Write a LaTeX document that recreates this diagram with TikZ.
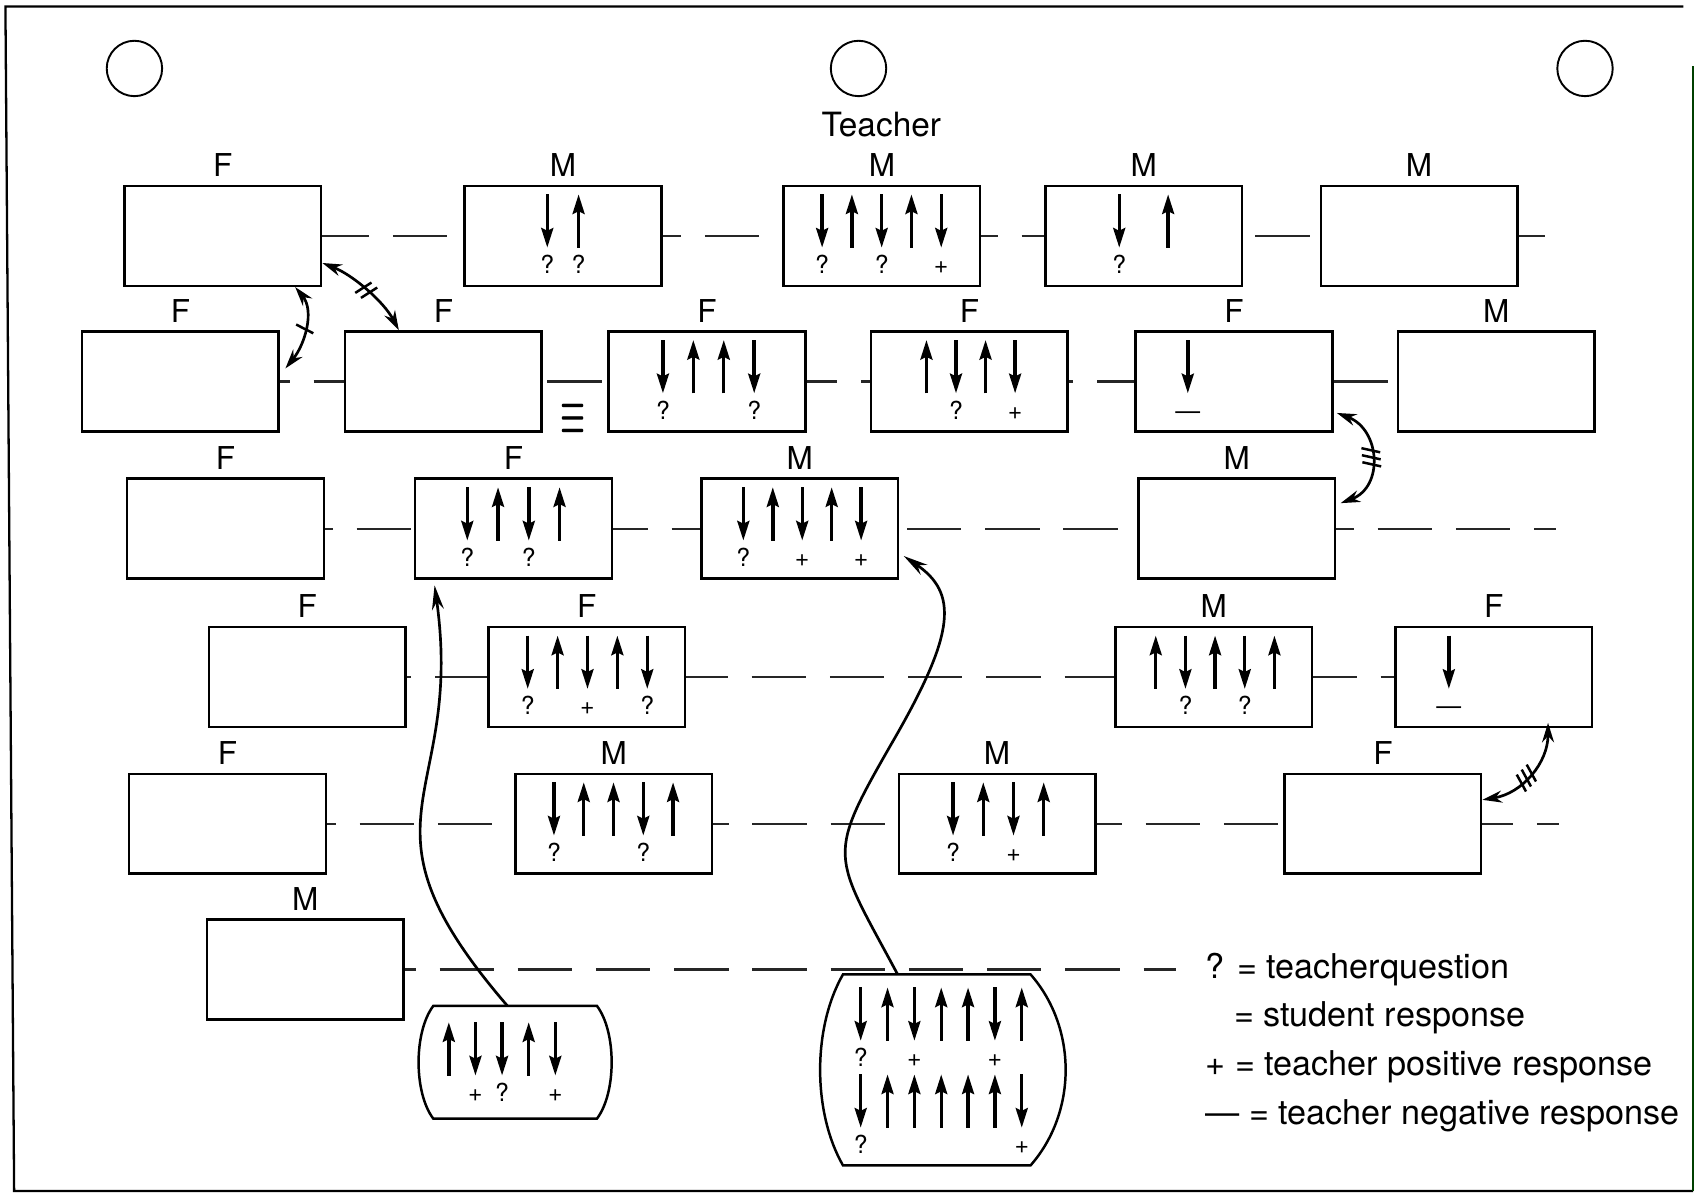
\documentclass[tikz,border=0pt]{standalone}
\usepackage{fontspec}
\setmainfont{TeX Gyre Heros}
\usetikzlibrary{arrows.meta,decorations.markings}

\newcommand{\turns}[5]{%
  \foreach \dir/\sg [count=\i from 0] in {#5}{%
    \draw[turn] ([shift={({#2+\i*#3},{#4+\dir*49})}]#1)
      -- ([shift={({#2+\i*#3},{#4+49-\dir*49})}]#1);
    \node[resp] at ([shift={({#2+\i*#3},{#4+73})}]#1) {\sg};
  }}

\begin{document}
\begin{tikzpicture}[x=0.02cm, y=-0.02cm,
  gender/.style={font=\fontsize{16.5}{18}\selectfont, inner sep=0pt, yshift=0.14cm},
  seat/.style={draw, line width=1.3pt, minimum width=3.62cm, minimum height=1.84cm, inner sep=0pt, label={[gender]above:#1}},
  cluster/.style={line width=1.3pt},
  hole/.style={circle, draw, line width=1pt, minimum size=1.02cm, inner sep=0pt},
  turn/.style={line width=1.8pt, -{Stealth[length=0.36cm,width=0.22cm,inset=0.05cm]}},
  resp/.style={font=\fontsize{13}{15}\selectfont, inner sep=0pt, anchor=base},
  talk/.style={line width=1.2pt, black!85, dash pattern=on 1cm off 0.44cm},
  pointer/.style={line width=1.4pt, -{Stealth[length=0.45cm,width=0.22cm]}},
  link/.style={line width=1.4pt, {Stealth[length=0.36cm,width=0.22cm]}-{Stealth[length=0.36cm,width=0.22cm]}},
  keytext/.style={font=\fontsize{17.9}{20}\selectfont, inner sep=0pt, anchor=base west},
  tick one/.style={postaction={decorate,decoration={markings,mark=at position #1 with {\draw[-,line width=1.3pt] (-0.05cm,-0.17cm) -- (0.05cm,0.17cm);}}}},
  tick one/.default=0.5,
  tick two/.style={postaction={decorate,decoration={markings,mark=at position #1 with {\draw[-,line width=1.3pt] (-0.12cm,-0.17cm) -- (-0.02cm,0.17cm) (0.02cm,-0.17cm) -- (0.12cm,0.17cm);}}}},
  tick two/.default=0.5,
  tick three/.style={postaction={decorate,decoration={markings,mark=at position #1 with {\draw[-,line width=1.3pt] (-0.18cm,-0.17cm) -- (-0.08cm,0.17cm) (-0.05cm,-0.17cm) -- (0.05cm,0.17cm) (0.08cm,-0.17cm) -- (0.18cm,0.17cm);}}}},
  tick three/.default=0.5]

  \useasboundingbox (0,0) rectangle (1568,1098);
  \draw[line width=1.2pt] (1549,6) -- (5,6) -- (13,1096) -- (1558,1096);
  \draw[line width=1.2pt, green!25!black] (1558,1096) -- (1558,61);

  \node[hole] (h1) at (123.7,63) {};
  \node[hole] (h2) at (790,63) {};
  \node[hole] (h3) at (1458.5,63) {};
  \node[anchor=base, inner sep=0pt, font=\fontsize{17.5}{19}\selectfont] (tch) at (811,126) {Teacher};

  \node[seat=F] (a1) at (205,217) {};
  \node[seat=M] (a2) at (518,217) {};
  \node[seat=M] (a3) at (811.5,217) {};
  \node[seat=M] (a4) at (1052.4,217) {};
  \node[seat=M] (a5) at (1305.8,217) {};

  \node[seat=F] (b1) at (166,351) {};
  \node[seat=F] (b2) at (408,351) {};
  \node[seat=F] (b3) at (650.5,351) {};
  \node[seat=F] (b4) at (892,351) {};
  \node[seat=F] (b5) at (1135.5,351) {};
  \node[seat=M] (b6) at (1376.8,351) {};

  \node[seat=F] (c1) at (207.5,486.5) {};
  \node[seat=F] (c2) at (472.5,486.5) {};
  \node[seat=M] (c3) at (736,486.5) {};
  \node[seat=M] (c4) at (1138,486.5) {};

  \node[seat=F] (d1) at (282.7,623) {};
  \node[seat=F] (d2) at (540,623) {};
  \node[seat=M] (d3) at (1116.8,623) {};
  \node[seat=F] (d4) at (1374.5,623) {};

  \node[seat=F] (e1) at (209.3,758) {};
  \node[seat=M] (e2) at (564.75,758) {};
  \node[seat=M] (e3) at (917.5,758) {};
  \node[seat=F] (e4) at (1272.5,758) {};

  \node[seat=M] (f1) at (280.8,892) {};

  \node[minimum width=3.54cm, minimum height=2.06cm, inner sep=0pt] (g1) at (474.5,977.5) {};
  \draw[cluster] ([xshift=0.26cm]g1.north west) -- ([xshift=-0.28cm]g1.north east)
    .. controls +(18,24) and +(18,-24) .. ([xshift=-0.28cm]g1.south east)
    -- ([xshift=0.26cm]g1.south west)
    .. controls +(-18,-24) and +(-18,24) .. ([xshift=0.26cm]g1.north west) -- cycle;
  \node[minimum width=4.5cm, minimum height=3.5cm, inner sep=0pt] (g2) at (867.5,984.5) {};
  \draw[cluster] ([xshift=0.42cm]g2.north west) -- ([xshift=-0.64cm]g2.north east)
    .. controls +(43,49) and +(43,-49) .. ([xshift=-0.64cm]g2.south east)
    -- ([xshift=0.42cm]g2.south west)
    .. controls +(-28,-49) and +(-28,49) .. ([xshift=0.42cm]g2.north west) -- cycle;

  \turns{a2.north}{-14.4}{28.8}{9}{0/?,1/?}
  \turns{a3.north}{-55}{27.4}{9}{0/?,1/{},0/?,1/{},0/+}
  \turns{a4.north}{-22.5}{45}{9}{0/?,1/{}}
  \turns{b3.north}{-40.5}{28}{9}{0/?,1/{},1/{},0/?}
  \turns{b4.north}{-39.5}{27.2}{9}{1/{},0/?,1/{},0/+}
  \turns{b5.north}{-42.5}{0}{9}{0/—}
  \turns{c2.north}{-42.5}{28.3}{9}{0/?,1/{},0/?,1/{}}
  \turns{c3.north}{-52}{27.1}{9}{0/?,1/{},0/+,1/{},0/+}
  \turns{d2.north}{-54.4}{27.5}{9}{0/?,1/{},0/+,1/{},0/?}
  \turns{d3.north}{-53.3}{27.3}{9}{1/{},0/?,1/{},0/?,1/{}}
  \turns{d4.north}{-41.3}{0}{9}{0/—}
  \turns{e2.north}{-55}{27.4}{9}{0/?,1/{},1/{},0/?,1/{}}
  \turns{e3.north}{-40.5}{27.8}{9}{0/?,1/{},0/+,1/{}}
  \turns{g1.north}{-61.5}{24.5}{15}{1/{},0/+,0/?,1/{},0/+}
  \turns{g2.north}{-75.5}{24.7}{12}{0/?,1/{},0/+,1/{},1/{},0/+,1/{}}
  \turns{g2.north}{-75.5}{24.7}{92}{0/?,1/{},1/{},1/{},1/{},1/{},0/+}

  \coordinate (a5r) at (1422,217);
  \coordinate (c4r) at (1432,486.5);
  \coordinate (e4r) at (1435,758);
  \coordinate (f1r) at (1082,892);

  \draw[talk, dash phase=0.14cm] (a1) -- (a2);
  \draw[talk, dash phase=0.66cm] (a2) -- (a3);
  \draw[talk, dash phase=0.7cm] (a3) -- (a4);
  \draw[talk, dash phase=1.22cm] (a4) -- (a5);
  \draw[talk] (a5) -- (a5r);

  \draw[talk, dash phase=0.82cm] (b1) -- (b2);
  \draw[talk, dash phase=1.36cm] (b2) -- (b3);
  \draw[talk, dash phase=0.44cm] (b3) -- (b4);
  \draw[talk, dash phase=0.92cm] (b4) -- (b5);
  \draw[talk] (b5) -- (b6);
  \node[font=\LARGE\boldmath, xscale=0.85, yscale=1.7] (same) at (527,385) {$\equiv$};

  \draw[talk, dash phase=0.86cm] (c1) -- (c2);
  \draw[talk, dash phase=0.36cm] (c2) -- (c3);
  \draw[talk, dash phase=1.3cm] (c3) -- (c4);
  \draw[talk, dash phase=0.68cm] (c4) -- (c4r);

  \draw[talk, dash phase=0.92cm] (d1) -- (d2);
  \draw[talk, dash phase=0.24cm] (d2) -- (d3);
  \draw[talk, dash phase=0.2cm] (d3) -- (d4);

  \draw[talk, dash phase=0.84cm] (e1) -- (e2);
  \draw[talk, dash phase=0.72cm] (e2) -- (e3);
  \draw[talk, dash phase=0.54cm] (e3) -- (e4);
  \draw[talk, dash phase=0.44cm] (e4) -- (e4r);

  \draw[talk, dash phase=0.8cm] (f1) -- (f1r);

  \draw[link, tick one] ([xshift=-0.5cm]a1.south east) .. controls +(18,22) and +(18,-22) .. ([xshift=0.1cm,yshift=0.24cm]b1.east);
  \draw[link, tick two] ([yshift=-0.5cm]a1.east) .. controls +(28,11) and +(-14,-26.5) .. ([xshift=-0.82cm]b2.north);
  \draw[link, tick three] ([xshift=0.06cm,yshift=-0.58cm]b5.east) .. controls +(40,15) and +(40,-15) .. ([xshift=0.08cm,yshift=0.47cm]c4.east);
  \draw[link, tick three=0.55] ([xshift=1cm,yshift=0.1cm]d4.south) .. controls +(0,37) and +(36.5,-6) .. ([yshift=0.44cm]e4.east);

  \draw[pointer] ([xshift=-0.15cm]g1.north) .. controls +(-150,-174) and +(28,200) .. ([xshift=0.38cm,yshift=-0.1cm]c2.south west);
  \draw[pointer] ([xshift=-0.83cm]g2.north) .. controls +(-61,-114) and +(-65,113) .. (824,678) .. controls +(55,-96) and +(50,34) .. ([xshift=0.08cm,yshift=0.44cm]c3.south east);

  \node[keytext] (k1) at (1109,900) {? = teacherquestion};
  \node[keytext] (k2) at (1109,945) {\phantom{?} = student response};
  \node[keytext] (k3) at (1109,990) {+ = teacher positive response};
  \node[keytext] (k4) at (1109,1035) {— = teacher negative response};
\end{tikzpicture}
\end{document}
